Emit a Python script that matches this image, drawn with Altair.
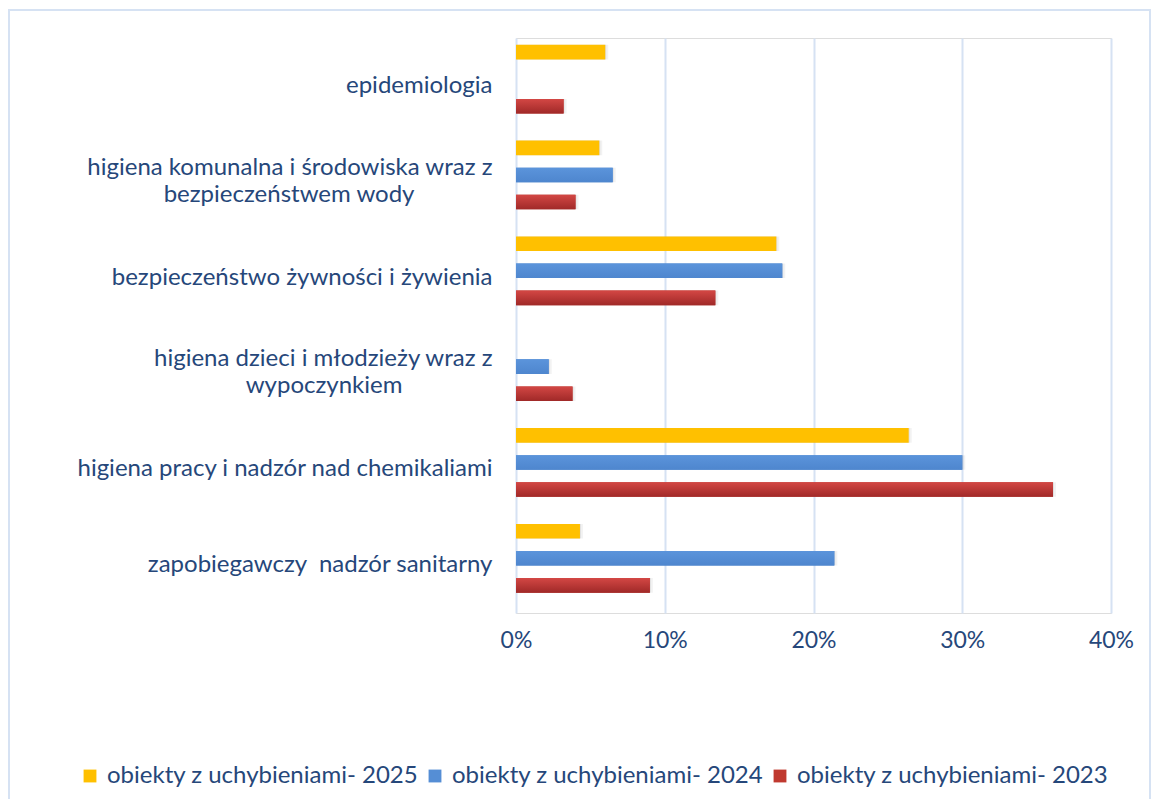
import altair as alt
import pandas as pd

EM = "\u2003"
EN = "\u2002"
THIN = "\u2009"
ZW = "\u200b"

# Category labels (each entry = lines of the wrapped axis label)
label_lines = [
    ["epidemiologia"],
    ["higiena komunalna i środowiska wraz z", "bezpieczeństwem wody"],
    ["bezpieczeństwo żywności i żywienia"],
    ["higiena dzieci i młodzieży wraz z", "wypoczynkiem"],
    ["higiena pracy i nadzór nad chemikaliami"],
    ["zapobiegawczy  nadzór sanitarny"],
]
# trailing spacing so the short second line sits centred under the first
line_pad = [[""], ["", EM * 4 + THIN * 2 + ZW], [""], ["", EM * 4 + EN + THIN * 2 + ZW], [""], [""]]
categories = [" ".join(l) for l in label_lines]

series = ["obiekty z uchybieniami- 2025", "obiekty z uchybieniami- 2024", "obiekty z uchybieniami- 2023"]
colors = ["#FFC000", "#558ED5", "#C0392F"]

# values in % (None = no bar)
v2025 = [6.0, 5.6, 17.5, None, 26.4, 4.3]
v2024 = [None, 6.5, 17.9, 2.2, 30.0, 21.4]
v2023 = [3.2, 4.0, 13.4, 3.8, 36.1, 9.0]

rows = []
for s, vals in zip(series, [v2025, v2024, v2023]):
    for c, v in zip(categories, vals):
        if v is not None:
            rows.append({"kategoria": c, "seria": s, "wartosc": v / 100})
df = pd.DataFrame(rows)

# labelExpr mapping for wrapped labels (double spaces kept visible)
parts = []
for c, l, p in zip(categories, label_lines, line_pad):
    shown = [x.replace("  ", " \u00a0") + pp for x, pp in zip(l, p)]
    arr = "[" + ",".join("'" + x + "'" for x in shown) + "]"
    parts.append(f"datum.value == '{c}' ? {arr} : ")
label_expr = "".join(parts) + "datum.value"

multi = [c for c, l in zip(categories, label_lines) if len(l) > 1]
multi_test = " || ".join(f"datum.value == '{c}'" for c in multi)

TEXT = "#26477A"
GRID = "#D6E2F3"

y_enc = alt.Y("kategoria:N", sort=categories, title=None,
              scale=alt.Scale(paddingInner=0, paddingOuter=0),
              axis=alt.Axis(labelExpr=label_expr, labelAlign="right", labelPadding=24,
                            labelBaseline={"condition": {"test": multi_test, "value": "line-bottom"},
                                           "value": "middle"},
                            labelFontSize=24, labelColor=TEXT, labelFont="Lato",
                            labelLineHeight=27, ticks=False, domain=False, grid=False,
                            labelLimit=700))
x_enc = alt.X("wartosc:Q", title=None,
              scale=alt.Scale(domain=[0, 0.4], nice=False),
              axis=alt.Axis(format="%", values=[0, 0.1, 0.2, 0.3, 0.4], labelFontSize=23,
                            labelColor=TEXT, labelFont="Lato", labelPadding=16,
                            labelFlush=False, ticks=False, domain=False, grid=True,
                            gridColor=GRID, gridWidth=2))
yoff = alt.YOffset("seria:N", sort=series,
                   scale=alt.Scale(domain=series, paddingInner=0.46, paddingOuter=0.5,
                                   align=0.25))

base = alt.Chart(df)

shadow1 = base.mark_bar(color="#000000", opacity=0.07, yOffset=3, xOffset=1).encode(
    y=y_enc, x=x_enc, yOffset=yoff)
shadow2 = base.mark_bar(color="#000000", opacity=0.05, yOffset=5, xOffset=3).encode(
    y=y_enc, x=x_enc, yOffset=yoff)

bars = base.mark_bar().encode(
    y=y_enc, x=x_enc, yOffset=yoff,
    color=alt.Color("seria:N", sort=series,
                    scale=alt.Scale(domain=series, range=colors),
                    legend=alt.Legend(orient="none", legendX=-438, legendY=726,
                                      direction="horizontal", title=None,
                                      symbolType="square", symbolSize=165,
                                      symbolStrokeWidth=0, labelFontSize=24,
                                      labelColor=TEXT, labelFont="Lato",
                                      columnPadding=4, labelOffset=5, labelLimit=600)))


def grad(top, bottom):
    return alt.Gradient(gradient="linear", x1=0, x2=0, y1=0, y2=1,
                        stops=[alt.GradientStop(color=top, offset=0),
                               alt.GradientStop(color=bottom, offset=1)])


red_grad = base.transform_filter(alt.datum.seria == series[2]).mark_bar(
    fill=grad("#D34744", "#A02928")).encode(y=y_enc, x=x_enc, yOffset=yoff)
blue_grad = base.transform_filter(alt.datum.seria == series[1]).mark_bar(
    fill=grad("#5B94DB", "#4E86CE")).encode(y=y_enc, x=x_enc, yOffset=yoff)

frame = alt.Chart(pd.DataFrame({"f": [0]})).mark_rect(
    fill=None, stroke="#D6E2F3", strokeWidth=2).encode(
    x=alt.value(-507), x2=alt.value(634), y=alt.value(-28), y2=alt.value(790))

chart = alt.layer(frame, shadow2, shadow1, bars, red_grad, blue_grad).properties(
    width=595, height=575,
    autosize=alt.AutoSizeParams(type="none"),
    padding={"left": 508, "top": 30, "right": 40, "bottom": 186},
).configure_view(stroke=None).configure(background="white")

chart.save("out.html", embed_options={"renderer": "svg", "actions": False})
